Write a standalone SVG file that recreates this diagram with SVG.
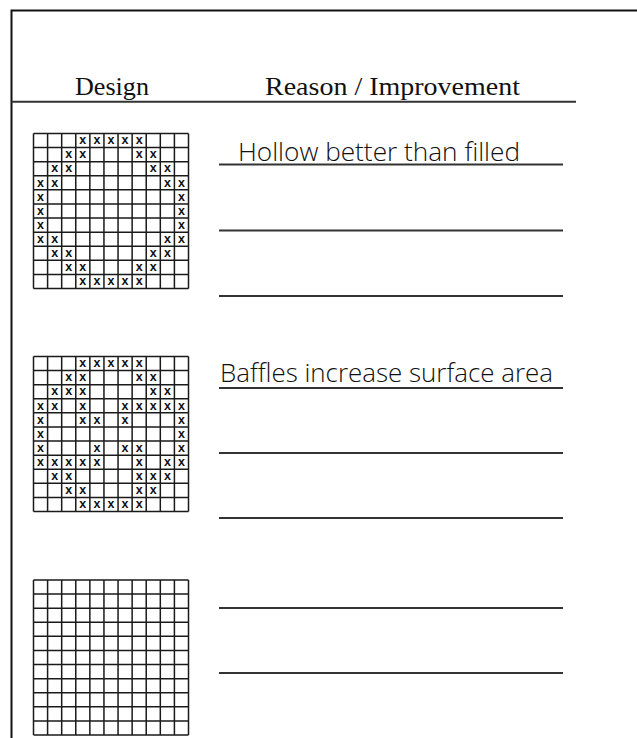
<svg xmlns="http://www.w3.org/2000/svg" width="637" height="738" viewBox="0 0 637 738">
<style>
.frame{fill:none;stroke:#111;stroke-width:2}
.rule{fill:none;stroke:#333;stroke-width:2}
.grid{fill:none;stroke:#1a1a1a;stroke-width:1.5}
.hdr{font-family:"Liberation Serif","Times New Roman",serif;font-size:26px;fill:#111}
.hand{font-family:"Open Sans","Liberation Sans",Arial,sans-serif;font-size:25px;fill:#111;font-weight:300}
.x{font-family:"Liberation Sans",Arial,sans-serif;font-size:12.5px;font-weight:bold;fill:#111;text-anchor:middle}
</style>
<defs>
<path id="gridpath" class="grid" d="M0 0H155M0 14.09H155M0 28.18H155M0 42.27H155M0 56.36H155M0 70.45H155M0 84.55H155M0 98.64H155M0 112.73H155M0 126.82H155M0 140.91H155M0 155H155M0 0V155M14.09 0V155M28.18 0V155M42.27 0V155M56.36 0V155M70.45 0V155M84.55 0V155M98.64 0V155M112.73 0V155M126.82 0V155M140.91 0V155M155 0V155"/>
</defs>
<rect width="637" height="738" fill="#fff"/>
<g id="frame">
<path class="frame" d="M11.5 738V10.5H637"/>
</g>
<g id="header">
<text class="hdr" x="75" y="95" textLength="74" lengthAdjust="spacingAndGlyphs">Design</text>
<text class="hdr" x="265" y="95" textLength="255" lengthAdjust="spacingAndGlyphs">Reason / Improvement</text>
<path class="rule" d="M11.5 101.7H576"/>
</g>
<g id="connectors"></g>
<g id="design1" transform="translate(33.5,133.5)">
<use href="#gridpath"/>
<text class="x" x="49.32 63.41 77.5 91.59 105.68" y="10.8">xxxxx</text>
<text class="x" x="35.23 49.32 105.68 119.77" y="24.89">xxxx</text>
<text class="x" x="21.14 35.23 119.77 133.86" y="38.98">xxxx</text>
<text class="x" x="7.05 21.14 133.86 147.95" y="53.07">xxxx</text>
<text class="x" x="7.05 147.95" y="67.16">xx</text>
<text class="x" x="7.05 147.95" y="81.25">xx</text>
<text class="x" x="7.05 147.95" y="95.34">xx</text>
<text class="x" x="7.05 21.14 133.86 147.95" y="109.43">xxxx</text>
<text class="x" x="21.14 35.23 119.77 133.86" y="123.52">xxxx</text>
<text class="x" x="35.23 49.32 105.68 119.77" y="137.61">xxxx</text>
<text class="x" x="49.32 63.41 77.5 91.59 105.68" y="151.7">xxxxx</text>
</g>
<g id="reason1">
<text class="hand" x="238" y="161" textLength="282" lengthAdjust="spacingAndGlyphs">Hollow better than filled</text>
<path class="rule" d="M219 164.5H563M219 230.5H563M219 296H563"/>
</g>
<g id="design2" transform="translate(33.5,356.5)">
<use href="#gridpath"/>
<text class="x" x="49.32 63.41 77.5 91.59 105.68" y="10.8">xxxxx</text>
<text class="x" x="35.23 49.32 105.68 119.77" y="24.89">xxxx</text>
<text class="x" x="21.14 35.23 49.32 119.77 133.86" y="38.98">xxxxx</text>
<text class="x" x="7.05 21.14 49.32 91.59 105.68 119.77 133.86 147.95" y="53.07">xxxxxxxx</text>
<text class="x" x="7.05 49.32 63.41 91.59 147.95" y="67.16">xxxxx</text>
<text class="x" x="7.05 147.95" y="81.25">xx</text>
<text class="x" x="7.05 63.41 91.59 105.68 147.95" y="95.34">xxxxx</text>
<text class="x" x="7.05 21.14 35.23 49.32 63.41 105.68 133.86 147.95" y="109.43">xxxxxxxx</text>
<text class="x" x="21.14 35.23 105.68 119.77 133.86" y="123.52">xxxxx</text>
<text class="x" x="35.23 49.32 105.68 119.77" y="137.61">xxxx</text>
<text class="x" x="49.32 63.41 77.5 91.59 105.68" y="151.7">xxxxx</text>
</g>
<g id="reason2">
<text class="hand" x="220" y="382" textLength="333" lengthAdjust="spacingAndGlyphs">Baffles increase surface area</text>
<path class="rule" d="M219 388H563M219 453H563M219 518H563"/>
</g>
<g id="design3" transform="translate(33.5,580)">
<use href="#gridpath"/>
</g>
<g id="reason3">
<path class="rule" d="M219 608H563M219 673H563"/>
</g>
</svg>
